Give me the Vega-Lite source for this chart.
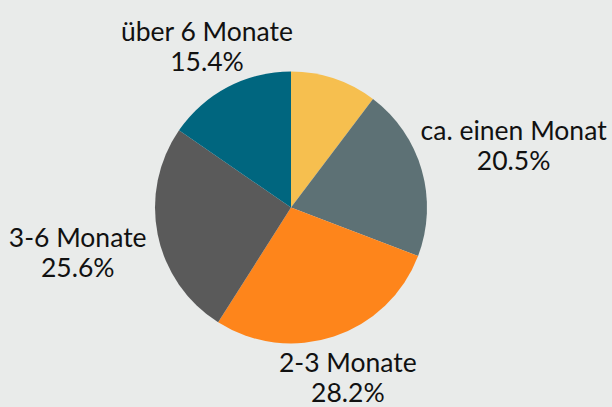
{
  "$schema": "https://vega.github.io/schema/vega-lite/v6.json",
  "width": 582,
  "height": 393,
  "autosize": {"type": "none"},
  "padding": {"left": 0, "top": 11, "right": 30, "bottom": 3},
  "background": "#e9ebea",
  "config": {"view": {"stroke": null}},
  "data": {
    "values": [
      {"name": "unter einem Monat", "pct": 10.3, "order": 1},
      {"name": "ca. einen Monat", "pct": 20.5, "order": 2},
      {"name": "2-3 Monate", "pct": 28.2, "order": 3},
      {"name": "3-6 Monate", "pct": 25.6, "order": 4},
      {"name": "über 6 Monate", "pct": 15.4, "order": 5}
    ]
  },
  "encoding": {
    "theta": {"field": "pct", "type": "quantitative", "stack": true},
    "order": {"field": "order", "type": "quantitative"}
  },
  "layer": [
    {
      "mark": {"type": "arc", "outerRadius": 136},
      "encoding": {
        "color": {
          "field": "name",
          "type": "nominal",
          "scale": {
            "domain": ["unter einem Monat", "ca. einen Monat", "2-3 Monate", "3-6 Monate", "über 6 Monate"],
            "range": ["#f6bf4f", "#5d7175", "#fe851b", "#5a5a5a", "#00667f"]
          },
          "legend": null
        }
      }
    },
    {
      "transform": [
        {"calculate": "datum.name + '\\n' + format(datum.pct, '.1f') + '%'", "as": "label"}
      ],
      "mark": {
        "type": "text",
        "radius": 0,
        "lineBreak": "\n",
        "font": "Lato",
        "fontSize": 26.5,
        "lineHeight": 30,
        "align": "center",
        "baseline": "middle",
        "dx": {"expr": "7*abs(sin(PI*(datum.pct_start+datum.pct_end)/100))+sin(PI*(datum.pct_start+datum.pct_end)/100)*(118+104*abs(sin(PI*(datum.pct_start+datum.pct_end)/100))+24*abs(cos(PI*(datum.pct_start+datum.pct_end)/100)))"},
        "dy": {"expr": "-15+7*abs(cos(PI*(datum.pct_start+datum.pct_end)/100))-cos(PI*(datum.pct_start+datum.pct_end)/100)*(118+104*abs(sin(PI*(datum.pct_start+datum.pct_end)/100))+24*abs(cos(PI*(datum.pct_start+datum.pct_end)/100)))"}
      },
      "encoding": {
        "text": {
          "condition": {"test": "datum.name !== 'unter einem Monat'", "field": "label"},
          "value": ""
        },
        "color": {"value": "#111111"}
      }
    }
  ]
}
